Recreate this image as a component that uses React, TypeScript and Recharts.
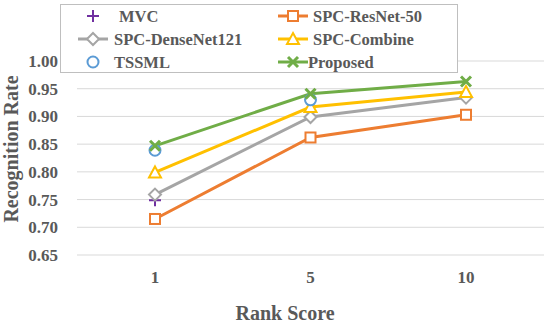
import React from 'react';
import { LineChart, Line, XAxis, YAxis, CartesianGrid } from 'recharts';

const ranks = ['1', '5', '10'];
const mvc = [0.749, null, null];
const resnet = [0.715, 0.862, 0.903];
const densenet = [0.759, 0.899, 0.934];
const combine = [0.799, 0.917, 0.944];
const tssml = [0.839, 0.93, null];
const proposed = [0.847, 0.941, 0.963];
const yTicks = [0.65, 0.7, 0.75, 0.8, 0.85, 0.9, 0.95, 1.0];

const data = ranks.map((r, i) => ({
  rank: r,
  mvc: mvc[i],
  resnet: resnet[i],
  densenet: densenet[i],
  combine: combine[i],
  tssml: tssml[i],
  proposed: proposed[i],
}));

const FONT = '"Liberation Serif", "Times New Roman", serif';
const TEXT = '#595959';

type Shape = 'plus' | 'square' | 'diamond' | 'triangle' | 'circle' | 'cross';

const Marker = ({ shape, color, x, y }: { shape: Shape; color: string; x: number; y: number }) => {
  const s = 5;
  switch (shape) {
    case 'plus':
      return (
        <g stroke={color} strokeWidth={2}>
          <line x1={x - s - 1} y1={y} x2={x + s + 1} y2={y} />
          <line x1={x} y1={y - s - 1} x2={x} y2={y + s + 1} />
        </g>
      );
    case 'square':
      return <rect x={x - s} y={y - s} width={s * 2} height={s * 2} fill="#fff" stroke={color} strokeWidth={2} />;
    case 'diamond':
      return (
        <polygon
          points={`${x},${y - s - 1} ${x + s + 1},${y} ${x},${y + s + 1} ${x - s - 1},${y}`}
          fill="#fff"
          stroke={color}
          strokeWidth={2}
        />
      );
    case 'triangle':
      return (
        <polygon
          points={`${x},${y - s - 1} ${x + s + 1},${y + s} ${x - s - 1},${y + s}`}
          fill="#fff"
          stroke={color}
          strokeWidth={2}
        />
      );
    case 'circle':
      return <circle cx={x} cy={y} r={s + 0.5} fill="#fff" stroke={color} strokeWidth={2} />;
    case 'cross':
      return (
        <g stroke={color} strokeWidth={3}>
          <line x1={x - s} y1={y - s} x2={x + s} y2={y + s} />
          <line x1={x - s} y1={y + s} x2={x + s} y2={y - s} />
        </g>
      );
  }
  return null;
};

const dotFor = (shape: Shape, color: string) => (props: any) => {
  const { cx, cy, index, value } = props;
  if (cx == null || cy == null || value == null) return <g key={`e-${index}`} />;
  return (
    <g key={`d-${index}`}>
      <Marker shape={shape} color={color} x={cx} y={cy} />
    </g>
  );
};

const seriesList: { key: string; name: string; color: string; shape: Shape; line: boolean }[] = [
  { key: 'mvc', name: 'MVC', color: '#7030A0', shape: 'plus', line: false },
  { key: 'resnet', name: 'SPC-ResNet-50', color: '#ED7D31', shape: 'square', line: true },
  { key: 'densenet', name: 'SPC-DenseNet121', color: '#A5A5A5', shape: 'diamond', line: true },
  { key: 'combine', name: 'SPC-Combine', color: '#FFC000', shape: 'triangle', line: true },
  { key: 'tssml', name: 'TSSML', color: '#5B9BD5', shape: 'circle', line: false },
  { key: 'proposed', name: 'Proposed', color: '#70AD47', shape: 'cross', line: true },
];

const LegendBox = () => {
  const rows = [15, 38, 61];
  return (
    <div
      style={{
        position: 'absolute',
        left: 60,
        top: 4,
        width: 396,
        height: 67,
        border: '1px solid #BFBFBF',
        background: '#fff',
      }}
    >
      <svg width={396} height={67} style={{ position: 'absolute', left: 0, top: 0 }}>
        {seriesList.map((s, i) => {
          const col = i % 2;
          const row = Math.floor(i / 2);
          const y = rows[row] - 4;
          const x0 = col === 0 ? 17 : 217;
          const x1 = x0 + 30;
          const textX = col === 0 ? (s.key === 'mvc' ? 58 : 53) : s.key === 'proposed' ? 247 : 252;
          return (
            <g key={s.key}>
              {s.line && <line x1={x0} y1={y} x2={x1} y2={y} stroke={s.color} strokeWidth={3} />}
              <Marker shape={s.shape} color={s.color} x={(x0 + x1) / 2} y={y} />
              <text
                x={textX}
                y={y}
                dy="0.35em"
                fontFamily={FONT}
                fontWeight="bold"
                fontSize={16.5}
                fill={TEXT}
              >
                {s.name}
              </text>
            </g>
          );
        })}
      </svg>
    </div>
  );
};

const titleStyle = { fontFamily: FONT, fontWeight: 'bold' as const, fontSize: 20, fill: TEXT };

const YTitle = (props: any) => {
  const vb = props.viewBox || {};
  const cy = vb.y + vb.height / 2 - 9;
  return (
    <text x={11} y={cy} transform={`rotate(-90, 11, ${cy})`} textAnchor="middle" dy="0.35em" {...titleStyle}>
      Recognition Rate
    </text>
  );
};

const XTitle = () => (
  <text x={285} y={313} textAnchor="middle" dy="0.35em" {...titleStyle}>
    Rank Score
  </text>
);

export default function App() {
  return (
    <div style={{ position: 'absolute', left: 0, top: 0, width: 550, height: 324, background: '#fff' }}>
      <LineChart width={550} height={324} data={data} margin={{ top: 61, right: 6, left: 0, bottom: 0 }}>
        <CartesianGrid vertical={false} stroke="#D9D9D9" strokeWidth={1} />
        <XAxis
          dataKey="rank"
          axisLine={false}
          tickLine={false}
          padding={{ left: 78, right: 78 }}
          height={69}
          tickSize={0}
          tickMargin={16}
          tick={{ fontFamily: FONT, fontWeight: 'bold', fontSize: 17, fill: TEXT }}
          label={<XTitle />}
        />
        <YAxis
          domain={[0.65, 1.0]}
          ticks={yTicks}
          width={77}
          axisLine={false}
          tickLine={false}
          tickSize={0}
          tickMargin={19}
          allowDataOverflow
          tickFormatter={(v: number) => v.toFixed(2)}
          tick={{ fontFamily: FONT, fontWeight: 'bold', fontSize: 17, fill: TEXT }}
          label={<YTitle />}
        />
        {seriesList.map((s) => (
          <Line
            key={s.key}
            dataKey={s.key}
            name={s.name}
            type="linear"
            stroke={s.line ? s.color : 'none'}
            strokeWidth={3}
            dot={dotFor(s.shape, s.color)}
            activeDot={false}
            isAnimationActive={false}
          />
        ))}
      </LineChart>
      <LegendBox />
    </div>
  );
}
